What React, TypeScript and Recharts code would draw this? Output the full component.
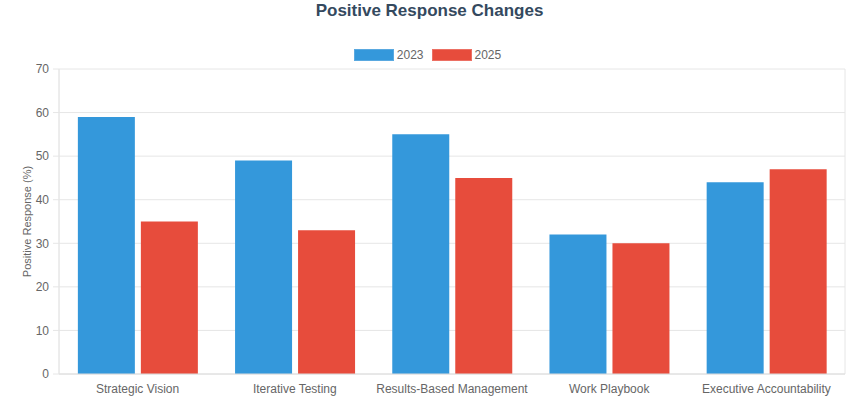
import React from 'react';
import {
  BarChart, Bar, XAxis, YAxis, CartesianGrid, Legend
} from 'recharts';

if (typeof document !== 'undefined') {
  document.body.style.margin = '0';
}

const categories = [
  'Strategic Vision',
  'Iterative Testing',
  'Results-Based Management',
  'Work Playbook',
  'Executive Accountability',
];
const values2023 = [59, 49, 55, 32, 44];
const values2025 = [35, 33, 45, 30, 47];
const yTicks = [0, 10, 20, 30, 40, 50, 60, 70];
const gridTicks = [0, 1, 2, 3, 4, 5];

const data = categories.map((name, i) => ({
  name,
  v2023: values2023[i],
  v2025: values2025[i],
  pos: i + 0.5,
}));

const FONT = '"Liberation Sans", Arial, Helvetica, sans-serif';
const GRID = '#e6e6e6';

const seriesInfo = [
  { key: 'v2023', label: '2023', color: '#3498db', border: '#5aa9e0' },
  { key: 'v2025', label: '2025', color: '#e74c3c', border: '#ec7064' },
];

const LegendContent = () => (
  <div style={{ display: 'flex', justifyContent: 'center', gap: 8, height: 16, alignItems: 'center' }}>
    {seriesInfo.map((s) => (
      <div key={s.key} style={{ display: 'flex', alignItems: 'center', gap: 3 }}>
        <span style={{
          display: 'inline-block', width: 38, height: 10,
          background: s.color, border: `1px solid ${s.border}`,
        }} />
        <span style={{ fontSize: 12, color: '#666', fontFamily: FONT }}>{s.label}</span>
      </div>
    ))}
  </div>
);

const YLabel = ({ viewBox }: any) => {
  const x = 27;
  const y = viewBox.y + viewBox.height / 2;
  return (
    <text x={x} y={y} transform={`rotate(-90, ${x}, ${y})`} textAnchor="middle"
      dominantBaseline="central" fontSize={11} fill="#666" fontFamily={FONT}>
      Positive Response (%)
    </text>
  );
};

export default function App() {
  return (
    <div style={{ position: 'relative', width: 859, height: 402, background: '#fff', fontFamily: FONT }}>
      <div style={{
        position: 'absolute', top: 0, left: 0, width: 859, textAlign: 'center',
        fontSize: 17, fontWeight: 'bold', color: '#34495e', lineHeight: '22px',
      }}>
        Positive Response Changes
      </div>
      <BarChart
        width={859}
        height={402}
        data={data}
        margin={{ top: 53, right: 14, left: 10, bottom: 0 }}
        barCategoryGap="12%"
        barGap={6}
      >
        <CartesianGrid xAxisId="grid" stroke={GRID} vertical horizontal />
        <XAxis
          xAxisId="grid"
          dataKey="pos"
          type="number"
          domain={[0, 5]}
          ticks={gridTicks}
          tick={false}
          axisLine={false}
          tickLine={{ stroke: GRID }}
          tickSize={7}
          height={0}
        />
        <XAxis
          dataKey="name"
          tick={{ fontSize: 12, fill: '#666', fontFamily: FONT }}
          tickLine={false}
          axisLine={{ stroke: '#dcdcdc' }}
          tickSize={0}
          tickMargin={10}
          height={28}
          interval={0}
        />
        <YAxis
          domain={[0, 70]}
          ticks={yTicks}
          tick={{ fontSize: 12, fill: '#666', fontFamily: FONT }}
          tickLine={{ stroke: GRID }}
          axisLine={{ stroke: GRID }}
          tickSize={6}
          tickMargin={4}
          width={49}
          label={<YLabel />}
        />
        <Legend
          verticalAlign="top"
          align="center"
          height={16}
          wrapperStyle={{ top: 47 }}
          content={<LegendContent />}
        />
        {seriesInfo.map((s) => (
          <Bar
            key={s.key}
            dataKey={s.key}
            name={s.label}
            fill={s.color}
            isAnimationActive={false}
          />
        ))}
      </BarChart>
    </div>
  );
}
